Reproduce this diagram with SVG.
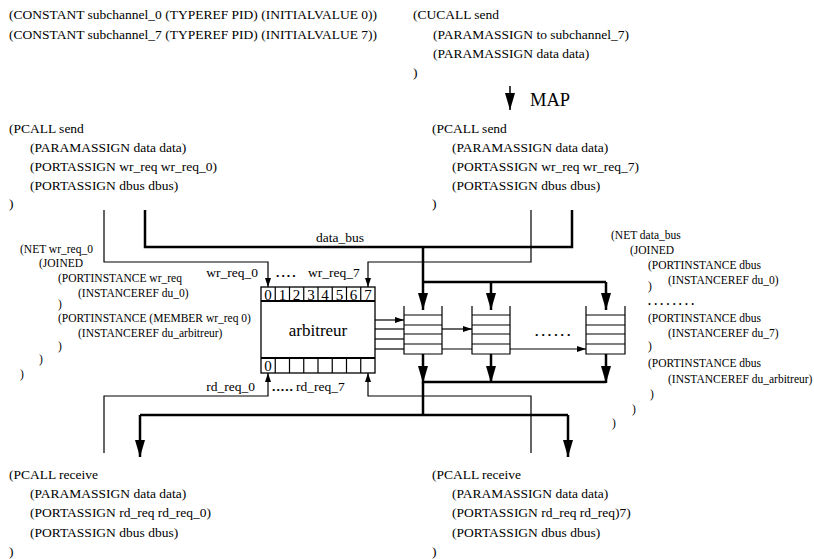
<svg xmlns="http://www.w3.org/2000/svg" width="814" height="559" viewBox="0 0 814 559">
<style>
  text { font-family: "Liberation Serif", "Times New Roman", serif; fill: #000; }
  .t { font-size: 13.5px; }
  .s { font-size: 11.5px; }
  .dig { font-size: 15px; }
  .thin { fill: none; stroke: #000; stroke-width: 1.2; }
  .thick { fill: none; stroke: #000; stroke-width: 2.5; }
  .box { fill: #fff; stroke: #000; stroke-width: 1.3; }
  .row { fill: none; stroke: #000; stroke-width: 2; }
  .dots { font-weight: bold; letter-spacing: 2px; }
</style>
<defs>
  <marker id="big" markerUnits="userSpaceOnUse" markerWidth="18" markerHeight="10" refX="17" refY="5" orient="auto">
    <path d="M0,0 L17,5 L0,10 z" fill="#000"/>
  </marker>
  <marker id="small" markerUnits="userSpaceOnUse" markerWidth="9" markerHeight="6" refX="9" refY="3" orient="auto">
    <path d="M0,0 L9,3 L0,6 z" fill="#000"/>
  </marker>
</defs>

<g id="constants">
  <text class="t" x="9" y="19">(CONSTANT subchannel_0 (TYPEREF PID) (INITIALVALUE 0))</text>
  <text class="t" x="9" y="39">(CONSTANT subchannel_7 (TYPEREF PID) (INITIALVALUE 7))</text>
</g>

<g id="cucall">
  <text class="t" x="413" y="19">(CUCALL send</text>
  <text class="t" x="433" y="39">(PARAMASSIGN to subchannel_7)</text>
  <text class="t" x="433" y="58">(PARAMASSIGN data data)</text>
  <text class="t" x="413" y="77">)</text>
</g>

<g id="map">
  <line class="thin" x1="510" y1="86" x2="510" y2="110" style="stroke-width:1.5" marker-end="url(#big)"/>
  <text x="530" y="106" style="font-size:18.5px">MAP</text>
</g>

<g id="pcall_send_0">
  <text class="t" x="9" y="133">(PCALL send</text>
  <text class="t" x="30" y="152">(PARAMASSIGN data data)</text>
  <text class="t" x="30" y="171">(PORTASSIGN wr_req wr_req_0)</text>
  <text class="t" x="30" y="190">(PORTASSIGN dbus dbus)</text>
  <text class="t" x="9" y="208">)</text>
</g>

<g id="pcall_send_7">
  <text class="t" x="432" y="133">(PCALL send</text>
  <text class="t" x="452" y="152">(PARAMASSIGN data data)</text>
  <text class="t" x="452" y="171">(PORTASSIGN wr_req wr_req_7)</text>
  <text class="t" x="452" y="190">(PORTASSIGN dbus dbus)</text>
  <text class="t" x="432" y="208">)</text>
</g>

<g id="net_wr_req_0">
  <text class="s" x="20" y="253">(NET wr_req_0</text>
  <text class="s" x="39" y="267">(JOINED</text>
  <text class="s" x="58" y="282">(PORTINSTANCE wr_req</text>
  <text class="s" x="78" y="297">(INSTANCEREF du_0)</text>
  <text class="s" x="58" y="308">)</text>
  <text class="s" x="58" y="322">(PORTINSTANCE (MEMBER wr_req 0)</text>
  <text class="s" x="78" y="337">(INSTANCEREF du_arbitreur)</text>
  <text class="s" x="58" y="350">)</text>
  <text class="s" x="39" y="363">)</text>
  <text class="s" x="20" y="378">)</text>
</g>

<g id="net_data_bus">
  <text class="s" x="611" y="239">(NET data_bus</text>
  <text class="s" x="630" y="254">(JOINED</text>
  <text class="s" x="648" y="269">(PORTINSTANCE dbus</text>
  <text class="s" x="668" y="284">(INSTANCEREF du_0)</text>
  <text class="s" x="648" y="290">)</text>
  <text class="s dots" x="648" y="305" style="letter-spacing:3.3px">........</text>
  <text class="s" x="648" y="322">(PORTINSTANCE dbus</text>
  <text class="s" x="668" y="337">(INSTANCEREF du_7)</text>
  <text class="s" x="648" y="350">)</text>
  <text class="s" x="648" y="367">(PORTINSTANCE dbus</text>
  <text class="s" x="668" y="383">(INSTANCEREF du_arbitreur)</text>
  <text class="s" x="650" y="398">)</text>
  <text class="s" x="632" y="413">)</text>
  <text class="s" x="612" y="427">)</text>
</g>

<g id="arbitreur">
  <rect class="box" x="261" y="287" width="114" height="86"/>
  <line class="row" x1="261" y1="301" x2="375" y2="301"/>
  <line class="row" x1="261" y1="358" x2="375" y2="358"/>
  <path class="thin" d="M275.25,287V301M289.5,287V301M303.75,287V301M318,287V301M332.25,287V301M346.5,287V301M360.75,287V301M275.25,358V373M289.5,358V373M303.75,358V373M318,358V373M332.25,358V373M346.5,358V373M360.75,358V373"/>
  <g text-anchor="middle">
    <text class="dig" x="268" y="300">0</text>
    <text class="dig" x="282.4" y="300">1</text>
    <text class="dig" x="296.6" y="300">2</text>
    <text class="dig" x="310.9" y="300">3</text>
    <text class="dig" x="325.1" y="300">4</text>
    <text class="dig" x="339.4" y="300">5</text>
    <text class="dig" x="353.6" y="300">6</text>
    <text class="dig" x="367.9" y="300">7</text>
    <text class="dig" x="268" y="371">0</text>
  </g>
  <text x="318" y="336" text-anchor="middle" style="font-size:17px">arbitreur</text>
</g>

<g id="fifo_0">
  <path class="thin" d="M404,306V354H442V306M404,315H442M404,325H442M404,334H442M404,344H442"/>
</g>
<g id="fifo_1">
  <path class="thin" d="M472,306V354H510V306M472,315H510M472,325H510M472,334H510M472,344H510"/>
</g>
<text id="fifo_dots" class="t dots" x="535" y="336" style="letter-spacing:3px">......</text>
<g id="fifo_7">
  <path class="thin" d="M586,306V354H625V306M586,315H625M586,325H625M586,334H625M586,344H625"/>
</g>

<g id="pcall_receive_0">
  <text class="t" x="9" y="479">(PCALL receive</text>
  <text class="t" x="30" y="498">(PARAMASSIGN data data)</text>
  <text class="t" x="30" y="517">(PORTASSIGN rd_req rd_req_0)</text>
  <text class="t" x="30" y="537">(PORTASSIGN dbus dbus)</text>
  <text class="t" x="9" y="556">)</text>
</g>

<g id="pcall_receive_7">
  <text class="t" x="432" y="479">(PCALL receive</text>
  <text class="t" x="452" y="498">(PARAMASSIGN data data)</text>
  <text class="t" x="452" y="517">(PORTASSIGN rd_req rd_req)7)</text>
  <text class="t" x="452" y="537">(PORTASSIGN dbus dbus)</text>
  <text class="t" x="432" y="556">)</text>
</g>

<g id="connectors">
  <path class="thick" d="M145,210V247H572V210"/>
  <path class="thick" d="M423,247V282M423,282H606"/>
  <line class="thick" x1="423" y1="282" x2="423" y2="310" marker-end="url(#big)"/>
  <line class="thick" x1="491" y1="282" x2="491" y2="310" marker-end="url(#big)"/>
  <line class="thick" x1="606" y1="282" x2="606" y2="310" marker-end="url(#big)"/>
  <line class="thick" x1="423" y1="354" x2="423" y2="383" marker-end="url(#big)"/>
  <line class="thick" x1="491" y1="354" x2="491" y2="383" marker-end="url(#big)"/>
  <line class="thick" x1="606" y1="354" x2="606" y2="383" marker-end="url(#big)"/>
  <path class="thick" d="M423,382H606M423,382V415M140,415H568"/>
  <line class="thick" x1="140" y1="415" x2="140" y2="457" marker-end="url(#big)"/>
  <line class="thick" x1="568" y1="415" x2="568" y2="457" marker-end="url(#big)"/>
  <path class="thin" d="M104,210V262H268V287" marker-end="url(#small)"/>
  <path class="thin" d="M531,210V262H368V287" marker-end="url(#small)"/>
  <path class="thin" d="M104,453V396H268V373" marker-end="url(#small)"/>
  <path class="thin" d="M531,453V396H368V373" marker-end="url(#small)"/>
  <line class="thin" x1="375" y1="320" x2="404" y2="320" marker-end="url(#small)"/>
  <line class="thin" x1="375" y1="329" x2="404" y2="329"/>
  <line class="thin" x1="375" y1="339" x2="404" y2="339"/>
  <line class="thin" x1="375" y1="349" x2="404" y2="349"/>
  <line class="thin" x1="442" y1="329" x2="472" y2="329" marker-end="url(#small)"/>
  <path class="thin" d="M442,349H472M510,349H586" marker-end="url(#small)"/>
  <text class="t" x="258" y="277" text-anchor="end">wr_req_0</text>
  <text class="t dots" x="276" y="277">....</text>
  <text class="t" x="308" y="277">wr_req_7</text>
  <text class="t" x="255" y="391" text-anchor="end">rd_req_0</text>
  <text class="t dots" x="272" y="391" style="letter-spacing:1px">.....</text>
  <text class="t" x="296" y="391">rd_req_7</text>
  <text class="t" x="340" y="242" text-anchor="middle">data_bus</text>
</g>
</svg>
